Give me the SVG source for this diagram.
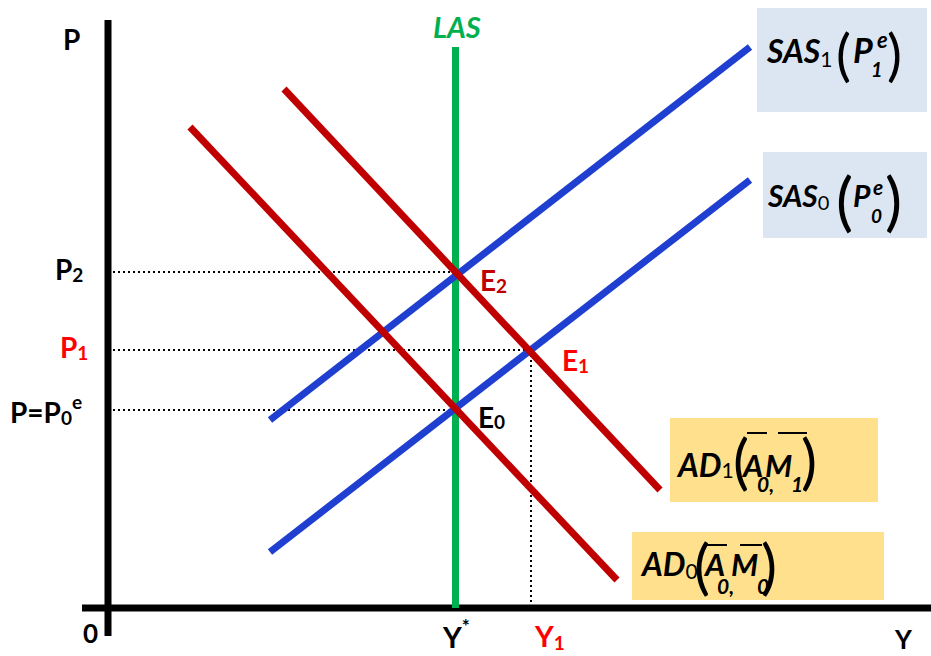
<svg xmlns="http://www.w3.org/2000/svg" width="931" height="656" viewBox="0 0 931 656">
<style>
text{font-family:Lato,"Liberation Sans",sans-serif;font-weight:bold;fill:#000}
.it{font-style:italic}
.red{fill:#ff0000}
.dred{fill:#c00000}
.grn{fill:#00b050}
.par{font-weight:normal;font-style:normal}
.dot{stroke:#000;stroke-width:2;stroke-dasharray:2 3;fill:none}
.ol{stroke:#000;stroke-width:2}
</style>
<rect width="931" height="656" fill="#fff"/>
<g id="boxes">
<rect id="sas1-box" x="757" y="8" width="170" height="104" fill="#dce6f2"/>
<rect id="sas0-box" x="763" y="152" width="164" height="86" fill="#dce6f2"/>
<rect id="ad1-box" x="670" y="418" width="208" height="84" fill="#ffe08c"/>
<rect id="ad0-box" x="632" y="532" width="252" height="68" fill="#ffe08c"/>
</g>
<g id="connectors">
<line class="dot" x1="113" y1="272" x2="455" y2="272"/>
<line class="dot" x1="113" y1="350" x2="531" y2="350"/>
<line class="dot" x1="113" y1="410" x2="455" y2="410"/>
<line class="dot" x1="531" y1="350" x2="531" y2="605"/>
</g>
<g id="axes" stroke="#000" stroke-width="7">
<line id="p-axis" x1="108" y1="20" x2="108" y2="636"/>
<line id="y-axis" x1="82" y1="608" x2="931" y2="608"/>
</g>
<g id="curves" stroke-width="7" fill="none">
<line id="las" x1="455.5" y1="47" x2="455.5" y2="608" stroke="#00b050"/>
<line id="sas1" x1="270" y1="420" x2="750" y2="47" stroke="#1f3fd1"/>
<line id="sas0" x1="270" y1="552" x2="750" y2="180" stroke="#1f3fd1"/>
<line id="ad1" x1="284" y1="89" x2="660" y2="490" stroke="#c00000"/>
<line id="ad0" x1="190" y1="127" x2="617" y2="580" stroke="#c00000"/>
</g>
<g id="axis-labels">
<text x="63" y="50" font-size="28">P</text>
<text x="83" y="643" font-size="26">0</text>
<text x="895" y="649" font-size="26">Y</text>
<text x="433" y="38" font-size="29" class="it grn">LAS</text>
<text x="55" y="280" font-size="28">P<tspan font-size="19" dy="2">2</tspan></text>
<text x="60" y="358" font-size="28" class="red">P<tspan font-size="19" dy="2">1</tspan></text>
<text x="10" y="423" font-size="28">P=P<tspan font-size="19" dy="2">0</tspan><tspan font-size="19" dy="-16">e</tspan></text>
<text x="443" y="648" font-size="29">Y<tspan font-size="19" dy="-15">*</tspan></text>
<text x="535" y="647" font-size="29" class="red">Y<tspan font-size="19" dy="3">1</tspan></text>
</g>
<g id="points">
<text id="e2" x="480" y="291" font-size="28" class="dred">E<tspan font-size="19" dy="2">2</tspan></text>
<text id="e1" x="562" y="371" font-size="28" class="red">E<tspan font-size="19" dy="2">1</tspan></text>
<text id="e0" x="478" y="428" font-size="28">E<tspan font-size="19" dy="1">0</tspan></text>
</g>
<g id="sas1-label">
<text x="767" y="63" font-size="32" class="it">SAS<tspan font-size="21" font-style="normal" font-weight="normal" dy="4">1</tspan></text>
<text x="836" y="75" font-size="56" class="par">(</text>
<text x="853" y="63" font-size="34" class="it">P</text>
<text x="877" y="48" font-size="22" class="it" font-weight="normal">e</text>
<text x="871" y="77" font-size="20" class="it">1</text>
<text x="887" y="75" font-size="56" class="par">)</text>
</g>
<g id="sas0-label">
<text x="768" y="207" font-size="30" class="it">SAS<tspan font-size="20" font-style="normal" font-weight="normal" dy="3">0</tspan></text>
<text x="836" y="224" font-size="64" class="par">(</text>
<text x="853" y="207" font-size="30" class="it">P</text>
<text x="873" y="195" font-size="21" class="it" font-weight="normal">e</text>
<text x="871" y="223" font-size="19" class="it" font-weight="normal">0</text>
<text x="885" y="224" font-size="64" class="par">)</text>
</g>
<g id="ad1-label">
<text x="678" y="477" font-size="32" class="it">AD<tspan font-size="21" font-style="normal" font-weight="normal" dy="1">1</tspan></text>
<text x="733" y="483" font-size="60" class="par">(</text>
<text x="743" y="477" font-size="31" class="it">A</text>
<text x="757" y="492" font-size="21" class="it" font-weight="normal">0,</text>
<text x="765" y="477" font-size="31" class="it">M</text>
<text x="791" y="492" font-size="21" class="it" font-weight="normal">1</text>
<text x="801" y="483" font-size="60" class="par">)</text>
<line class="ol" x1="747" y1="433" x2="767" y2="433"/>
<line class="ol" x1="778" y1="433" x2="807" y2="433"/>
</g>
<g id="ad0-label">
<text x="642" y="576" font-size="32" class="it">AD<tspan font-size="21" font-style="normal" font-weight="normal" dy="3">0</tspan></text>
<text x="694" y="588" font-size="60" class="par">(</text>
<text x="705" y="576" font-size="31" class="it">A</text>
<text x="717" y="594" font-size="21" class="it" font-weight="normal">0,</text>
<text x="731" y="576" font-size="31" class="it">M</text>
<text x="757" y="594" font-size="21" class="it" font-weight="normal">0</text>
<text x="761" y="588" font-size="60" class="par">)</text>
<line class="ol" x1="707" y1="545" x2="727" y2="545"/>
<line class="ol" x1="740" y1="545" x2="762" y2="545"/>
</g>
</svg>
